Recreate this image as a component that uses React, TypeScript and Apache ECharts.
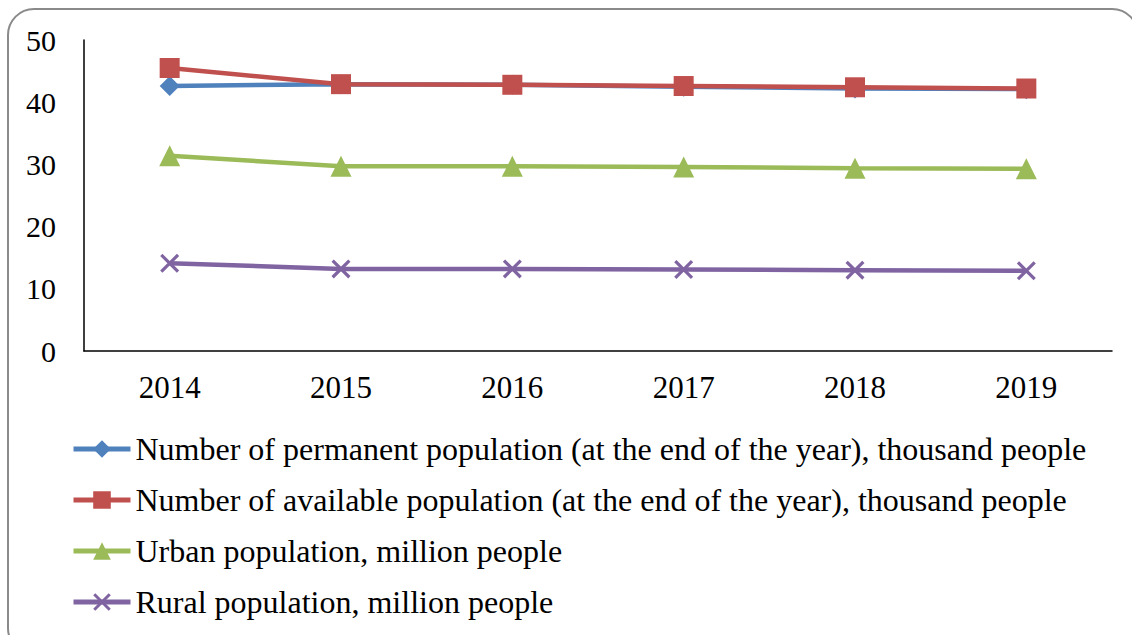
import React, { useEffect, useRef } from "react";
import * as echarts from "echarts";

const years = ["2014", "2015", "2016", "2017", "2018", "2019"];
const permanent = [42.6, 42.9, 42.8, 42.5, 42.2, 42.1];
const available = [45.5, 42.9, 42.8, 42.6, 42.4, 42.2];
const urban = [31.4, 29.7, 29.7, 29.6, 29.4, 29.3];
const rural = [14.1, 13.2, 13.2, 13.1, 13.0, 12.9];
const seriesNames = [
  "Number of permanent population (at the end of the year), thousand people",
  "Number of available population (at the end of the year), thousand people",
  "Urban population, million people",
  "Rural population, million people",
];
const colors = ["#4F81BD", "#C0504D", "#9BBB59", "#8064A2"];

const FONT = "'Liberation Serif', 'Times New Roman', serif";
const crossPath =
  "path://M0,1.2 L1.2,0 L10,8.8 L8.8,10 Z M8.8,0 L10,1.2 L1.2,10 L0,8.8 Z";

export default function App() {
  const ref = useRef<HTMLDivElement>(null);
  useEffect(() => {
    if (!ref.current) return;
    const chart = echarts.init(ref.current, null, { renderer: "svg" });
    const datasets = [permanent, available, urban, rural];
    const symbols = ["diamond", "rect", "triangle", crossPath];
    const sizes = [20, 20, 21, 19];
    chart.setOption({
      animation: false,
      backgroundColor: "#ffffff",
      textStyle: { fontFamily: FONT },
      graphic: [
        {
          type: "rect",
          shape: { x: 8, y: 9, width: 1130, height: 645, r: 26 },
          style: { fill: "none", stroke: "#8a8a8a", lineWidth: 2 },
          silent: true,
        },
        {
          type: "text",
          x: 598,
          y: 4,
          style: {
            text: "environment.",
            font: "24px " + FONT,
            fill: "#000",
            textVerticalAlign: "bottom",
            verticalAlign: "bottom",
          },
          silent: true,
        },
      ],
      grid: { left: 84, right: 20, top: 40, bottom: 284, containLabel: false },
      legend: {
        orient: "vertical",
        left: 71,
        top: 433,
        padding: 0,
        itemWidth: 57,
        itemHeight: 22,
        itemGap: 19,
        lineStyle: { width: 5 },
        textStyle: { fontSize: 32, fontFamily: FONT, color: "#000" },
        data: seriesNames,
      },
      xAxis: {
        type: "category",
        data: years,
        boundaryGap: true,
        axisLine: { lineStyle: { color: "#000", width: 1.5 } },
        axisTick: { show: false },
        axisLabel: { fontSize: 31, fontFamily: FONT, color: "#000", margin: 21 },
      },
      yAxis: {
        type: "value",
        min: 0,
        max: 50,
        interval: 10,
        axisLine: { show: true, lineStyle: { color: "#000", width: 1.5 } },
        axisTick: { show: false },
        splitLine: { show: false },
        axisLabel: { fontSize: 30, fontFamily: FONT, color: "#000", margin: 28 },
      },
      series: datasets.map((d, i) => ({
        name: seriesNames[i],
        type: "line",
        data: d,
        symbol: symbols[i],
        symbolSize: sizes[i],
        showAllSymbol: true,
        lineStyle: { color: colors[i], width: 4.5 },
        itemStyle: { color: colors[i] },
        z: 2 + i,
      })),
    });
    return () => chart.dispose();
  }, []);
  return (
    <div
      ref={ref}
      style={{ position: "absolute", left: 0, top: 0, width: 1132, height: 635 }}
    />
  );
}
